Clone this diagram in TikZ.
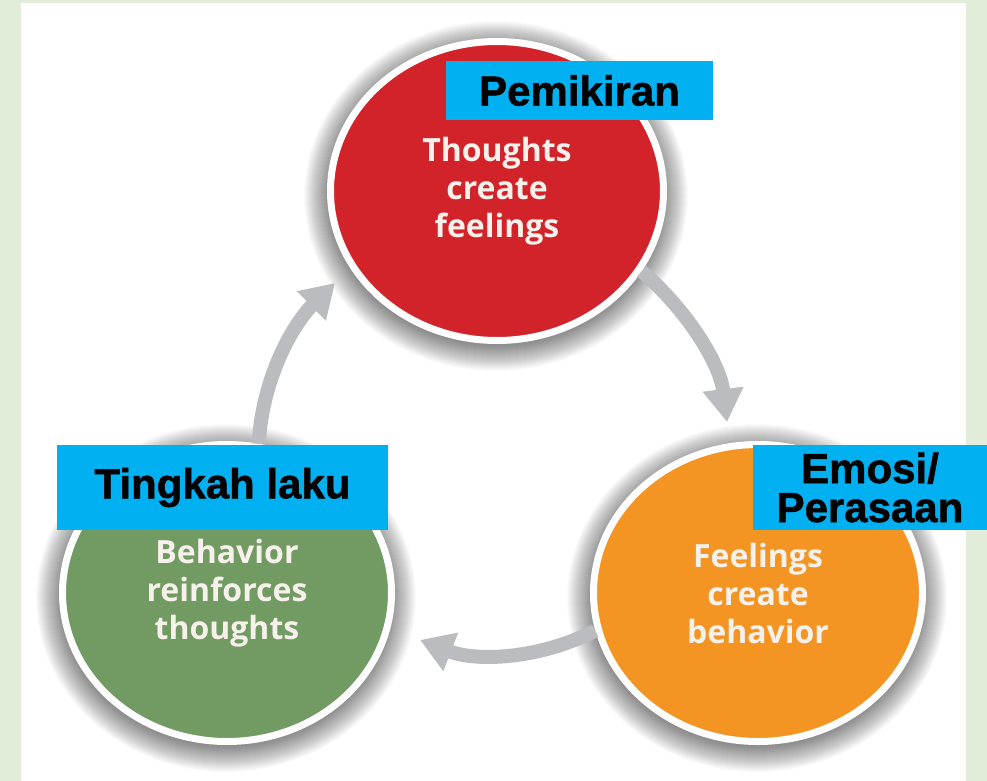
\documentclass[tikz,border=0pt]{standalone}
\usepackage{fontspec}
\setmainfont{Liberation Sans}
\newfontfamily\tagfont{Liberation Sans Bold}[FakeBold=1.2]
\newfontfamily\circfont{Open Sans}
\usetikzlibrary{shapes.geometric,arrows.meta}
\definecolor{bggreen}{HTML}{E2EDD9}
\definecolor{thinkred}{HTML}{D2222A}
\definecolor{feelorange}{HTML}{F39423}
\definecolor{behavgreen}{HTML}{719B63}
\definecolor{bubbletext}{HTML}{F7F1EC}
\definecolor{labelcyan}{HTML}{00B0F0}
\definecolor{arrowgrey}{HTML}{BBBCBF}
\tikzset{
  bubble/.style={ellipse, draw=white, line width=7pt, minimum width=329pt,
    minimum height=297pt, inner sep=0pt, align=center, text=bubbletext,
    font=\circfont\bfseries\fontsize{32}{38}\selectfont},
  softshade/.style={fill=black, opacity=0.02},
  tag/.style={fill=labelcyan, text=black, inner sep=0pt, align=center,
    font=\tagfont\fontsize{42}{39}\selectfont},
  flow/.style={draw=arrowgrey, line width=14pt, -{Triangle[width=39pt,length=33pt]}}
}
\begin{document}
\begin{tikzpicture}[x=1pt,y=-1pt]
\useasboundingbox (0,0) rectangle (987,781);
\fill[bggreen] (0,0) rectangle (987,781);
\fill[white] (21,3) rectangle (966,781);

\coordinate (cr) at (497,191);
\coordinate (co) at (758,593);
\coordinate (cg) at (227,593);

% soft shadows
\foreach \c/\a/\b in {cr/170/153, co/168/152, cg/168/152}{
  \foreach \k in {1,...,28}{
    \fill[softshade, shift={(\c)}] (-1,5) ellipse [x radius=\a+\k-6, y radius=\b+\k-6];
  }
}

\node[bubble, fill=thinkred, minimum height=299pt, minimum width=333pt] (red) at (cr) {Thoughts\\create\\feelings};
\node[bubble, fill=feelorange] (orange) at (co) {Feelings\\create\\behavior};
\node[bubble, fill=behavgreen] (green) at (cg) {Behavior\\reinforces\\thoughts};

\coordinate (t1) at (727,422);
\coordinate (t2) at (420,640);
\coordinate (t3) at (335,283);
\draw[flow] (red.-29) .. controls (688,311) and (720,364) .. (t1);
\draw[flow] (orange.193) .. controls (540,659) and (477,662) .. (t2);
\draw[flow] (green.78) .. controls (262,380) and (292,325) .. (t3);

\node[tag, minimum width=267pt, minimum height=59pt] (lp) at (579.5,90.5) {Pemikiran};
\node[tag, minimum width=331pt, minimum height=85pt] (lt) at (222.5,487.5) {Tingkah laku};
\node[tag, minimum width=234pt, minimum height=85pt] (le) at (870,487.5) {Emosi/\\Perasaan};
\end{tikzpicture}
\end{document}
